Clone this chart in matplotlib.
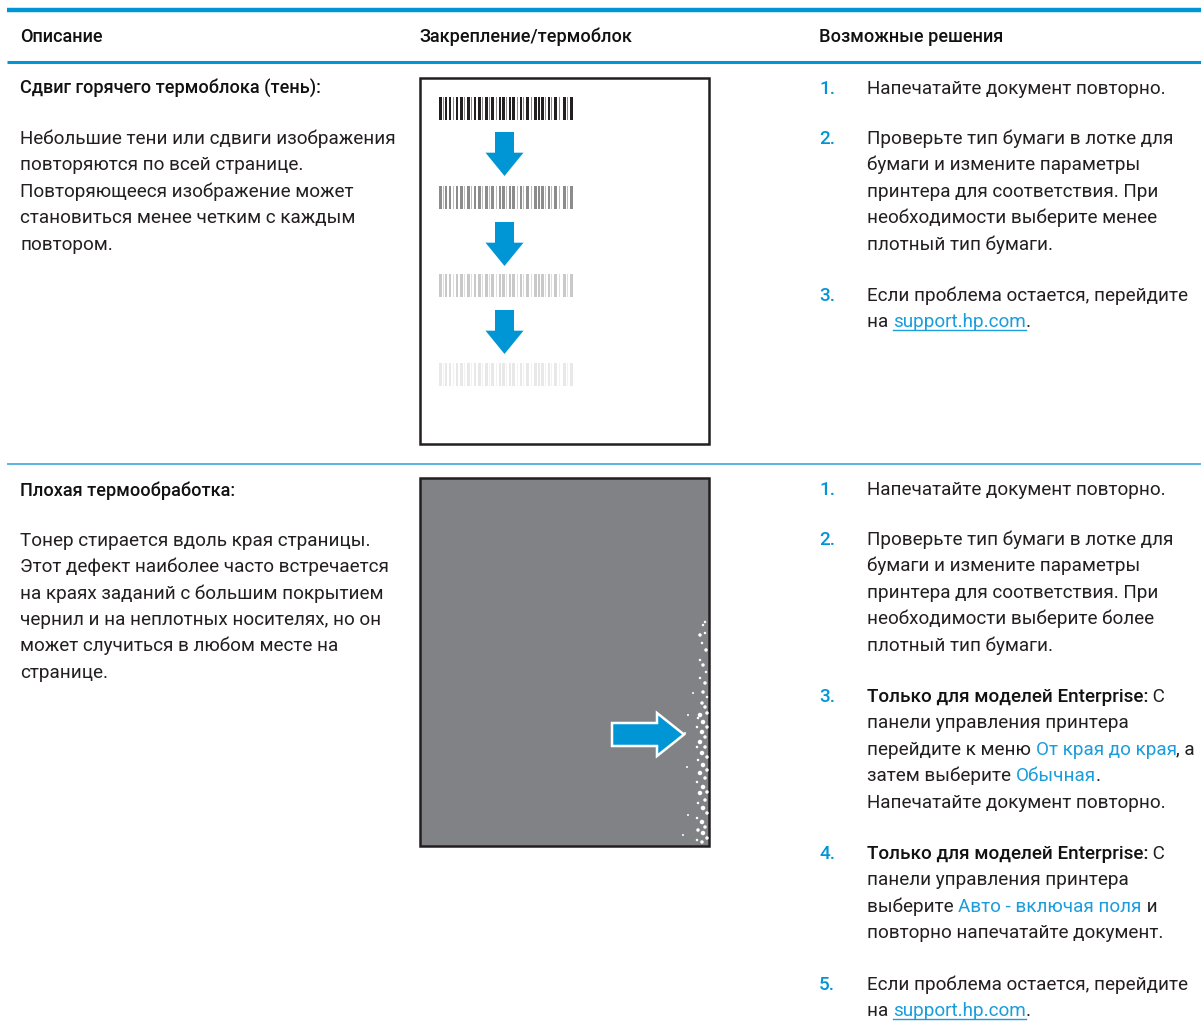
import matplotlib
matplotlib.use("Agg")
import matplotlib.pyplot as plt
from matplotlib.patches import Rectangle, Polygon

# --- content ---
headers = ["Описание", "Закрепление/термоблок", "Возможные решения"]
header_x = [20, 419, 819]

row1_title = "Сдвиг горячего термоблока (тень):"
row1_desc = ["Небольшие тени или сдвиги изображения",
             "повторяются по всей странице.",
             "Повторяющееся изображение может",
             "становиться менее четким с каждым",
             "повтором."]
row2_title = "Плохая термообработка:"
row2_desc = ["Тонер стирается вдоль края страницы.",
             "Этот дефект наиболее часто встречается",
             "на краях заданий с большим покрытием",
             "чернил и на неплотных носителях, но он",
             "может случиться в любом месте на",
             "странице."]

# each step: number, y of first line, list of lines; a line is a list of (text, style)
row1_steps = [
    ("1.", 88, [[("Напечатайте документ повторно.", "n")]]),
    ("2.", 138, [[("Проверьте тип бумаги в лотке для", "n")],
                 [("бумаги и измените параметры", "n")],
                 [("принтера для соответствия. При", "n")],
                 [("необходимости выберите менее", "n")],
                 [("плотный тип бумаги.", "n")]]),
    ("3.", 295, [[("Если проблема остается, перейдите", "n")],
                 [("на ", "n"), ("support.hp.com", "u"), (".", "n")]]),
]
row2_steps = [
    ("1.", 489, [[("Напечатайте документ повторно.", "n")]]),
    ("2.", 539, [[("Проверьте тип бумаги в лотке для", "n")],
                 [("бумаги и измените параметры", "n")],
                 [("принтера для соответствия. При", "n")],
                 [("необходимости выберите более", "n")],
                 [("плотный тип бумаги.", "n")]]),
    ("3.", 696, [[("Только для моделей Enterprise:", "b"), (" С", "n")],
                 [("панели управления принтера", "n")],
                 [("перейдите к меню ", "n"), ("От края до края", "l"), (", а", "n")],
                 [("затем выберите ", "n"), ("Обычная", "l"), (".", "n")],
                 [("Напечатайте документ повторно.", "n")]]),
    ("4.", 853, [[("Только для моделей Enterprise:", "b"), (" С", "n")],
                 [("панели управления принтера", "n")],
                 [("выберите ", "n"), ("Авто - включая поля", "l"), (" и", "n")],
                 [("повторно напечатайте документ.", "n")]]),
    ("5.", 984, [[("Если проблема остается, перейдите", "n")],
                 [("на ", "n"), ("support.hp.com", "u"), (".", "n")]]),
]

# barcode bars: offset and width (px) inside one code
bar_off = [0, 3.5, 6, 9.5, 14, 17, 21, 25, 28, 32, 35, 38.5, 43, 46, 50, 52, 57, 60,
           63, 67, 70, 73, 78, 81, 84, 87, 92, 95, 99, 102, 106, 109, 112, 115, 120,
           124, 128, 131]
bar_w = [2.5, 1, 1.5, 2.5, 1, 2, 3, 1, 2.5, 1, 1.5, 3, 1, 2.5, 1, 3, 1, 2,
         3, 1, 1.5, 3, 1, 2, 1, 2.5, 1, 3, 1.5, 2.5, 1, 2, 1, 2.5, 1,
         2.5, 1, 3]
code_y = [97, 186, 274, 363]
code_col = ["#231f20", "#8c8c8c", "#c9c9c9", "#e8e8e8"]
code_ghost = ["#8a8a8a", "#bcbcbc", "#dedede", "#f1f1f1"]

# white toner speckles near the right edge (x, y, diameter px)
speck_x = [705, 703, 700, 705, 702, 706, 700, 703, 706, 700, 705, 703, 693, 707, 702,
           705, 700, 707, 698, 703, 707, 697, 702, 705, 688, 685, 700, 705, 697, 702,
           707, 698, 703, 687, 707, 700, 705, 697, 703, 707, 700, 705, 698, 703, 707,
           688, 697, 702, 705, 698, 703, 683, 707, 697, 702]
speck_y = [622, 625, 635, 633, 643, 650, 660, 665, 672, 678, 683, 692, 693, 697, 703,
           707, 715, 713, 718, 722, 727, 727, 732, 737, 715, 733, 742, 747, 747, 753,
           757, 760, 765, 767, 770, 773, 778, 782, 787, 792, 793, 800, 803, 808, 813,
           815, 818, 822, 827, 830, 833, 835, 838, 840, 842]
speck_d = [2.5, 2.5, 3.5, 2.5, 2.5, 3.5, 2.5, 3.5, 2.5, 2.5, 3.5, 3.5, 2, 2.5, 3.5,
           3.5, 4.5, 3.5, 2.5, 4.5, 3.5, 2.5, 4.5, 3.5, 2, 2, 4.5, 3.5, 2.5, 4.5,
           3.5, 2.5, 4.5, 2, 3.5, 4.5, 3.5, 2.5, 4.5, 3.5, 4.5, 3.5, 2.5, 4.5, 3.5,
           2, 2.5, 4.5, 3.5, 3.5, 4.5, 2, 3.5, 2.5, 3.5]

BLUE = "#0096d6"
LINK = "#1a9ddc"
INK = "#231f20"
FS = 13.6

fig = plt.figure(figsize=(12.01, 10.35), dpi=100)
ax = fig.add_axes([0, 0, 1, 1])
ax.set_xlim(0, 1201)
ax.set_ylim(1035, 0)
ax.axis("off")
renderer = fig.canvas.get_renderer()

styles = {"n": dict(color=INK, weight="normal"),
          "h": dict(color="#111111", weight="medium"),
          "b": dict(color="#111111", weight="medium"),
          "l": dict(color=LINK, weight="normal"),
          "u": dict(color=LINK, weight="normal")}


def put_line(x, y, parts, size=FS):
    base = y + 6
    for txt, st in parts:
        t = ax.text(x, base, txt, fontsize=size, family="Roboto", va="baseline",
                    ha="left", **styles[st])
        w = t.get_window_extent(renderer=renderer).width
        if st == "u":
            ax.plot([x, x + w], [base + 3, base + 3], color=LINK, lw=1)
        x += w


# rules
ax.plot([7, 1201], [10, 10], color=BLUE, lw=3.2, solid_capstyle="butt")
ax.plot([7, 1201], [61.5, 61.5], color=BLUE, lw=2.2, solid_capstyle="butt")
ax.plot([7, 1201], [464, 464], color="#3fa9dc", lw=1.2, solid_capstyle="butt")

for h, hx in zip(headers, header_x):
    put_line(hx, 36, [(h, "h")], size=13.1)

put_line(20, 88, [(row1_title, "h")], size=13.1)
for i, line in enumerate(row1_desc):
    put_line(20, 138 + i * 26.5, [(line, "n")])
put_line(20, 490, [(row2_title, "h")], size=13.1)
for i, line in enumerate(row2_desc):
    put_line(20, 540 + i * 26.3, [(line, "n")])

for steps in (row1_steps, row2_steps):
    for num, y0, lines in steps:
        put_line(819, y0, [(num, "b")])
        ax.texts[-1].set_color(BLUE)
        for j, ln in enumerate(lines):
            put_line(867, y0 + j * 26.4, ln)

# picture 1: shadow barcodes
ax.add_patch(Rectangle((420, 78), 289, 366, facecolor="white", edgecolor=INK, lw=1.8))
for cy, col, gcol in zip(code_y, code_col, code_ghost):
    for o, w in zip(bar_off, bar_w):
        c = col if w >= 1.5 else gcol
        ax.add_patch(Rectangle((439 + o, cy), w, 23, facecolor=c, edgecolor="none"))


def down_arrow(cx, top, tip):
    hb = top + (tip - top) * 0.47
    pts = [(cx - 9.5, top), (cx + 9.5, top), (cx + 9.5, hb), (cx + 19, hb),
           (cx, tip), (cx - 19, hb), (cx - 9.5, hb)]
    ax.add_patch(Polygon(pts, closed=True, facecolor=BLUE, edgecolor="none"))


down_arrow(504.5, 132, 176)
down_arrow(504.5, 222, 266)
down_arrow(504.5, 310, 354)

# picture 2: poor fusing
ax.add_patch(Rectangle((420, 478), 289, 368, facecolor="#808285", edgecolor=INK, lw=1.8))
ax.scatter(speck_x, speck_y, s=[(d * 0.72) ** 2 for d in speck_d], color="white",
           edgecolors="none", zorder=3)
ax.add_patch(Polygon([(612, 723), (657, 723), (657, 713), (684, 734.5), (657, 756),
                      (657, 746), (612, 746)], closed=True, facecolor=BLUE,
                     edgecolor="white", lw=1.8, joinstyle="miter", zorder=4))

fig.savefig("out.png", dpi=100)
